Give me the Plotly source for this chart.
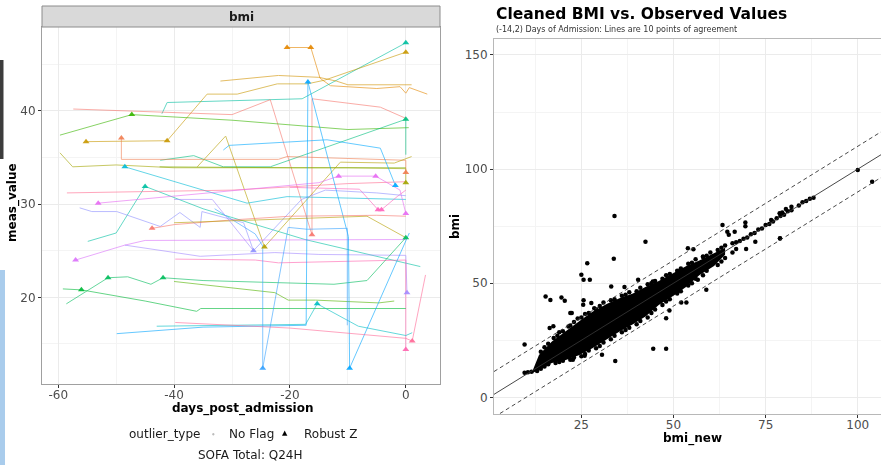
import plotly.graph_objects as go

# ---------------- LEFT PANEL DATA: (days_post_admission, meas_value, robust_z_flag) ----------------
pt01 = [(-20.5,46.8,1),(-16.4,46.8,1),(-14.8,43.5,0),(-13,42.7,0),(-5,42.4,0),(-1,42.6,0),(0,41.9,0),(0.6,42.5,0),(3.7,41.8,0)]
pt02 = [(-42.1,39.7,0),(-41.2,40.9,0),(-17.9,41.3,0),(0,47.3,1)]
pt03 = [(-55.2,36.7,1),(-41.2,36.8,1),(-34.3,41.8,0),(-29.1,41.8,0),(-22.2,42.9,0),(-17,42.9,0),(-14,43.3,0),(0,46.3,1)]
pt04 = [(-32,43.2,0),(-22,43.8,0),(-15,43.6,0),(-12,43.2,0),(-10,42.8,0),(1,42.8,0)]
pt05 = [(-57.4,40.2,0),(-30,39.6,0),(-23.4,41.2,0),(-16.2,26.7,1),(-16.2,41.3,0),(-4.4,40.4,0),(0,39.2,0)]
pt06 = [(-59.7,37.4,0),(-47.3,39.6,1),(-30,39,0),(-17,38.3,0),(-10,38,0),(0.5,38.2,0)]
pt07 = [(-42.4,34.7,0),(-36.6,35.2,0),(-31.5,34.0,0),(-23.4,34.0,0),(0,39.1,1),(0,35.3,0)]
pt08 = [(-49.1,37.1,1),(-49.1,34.8,0),(-22,34.8,0),(-20.5,35.1,0),(0,34.7,0),(0,33.4,1)]
pt09 = [(-59.7,35.5,0),(-57.5,34,0),(-50,34.2,0),(-40,33.9,0),(-10,33.9,0),(0,33.8,0),(0,32.3,1)]
pt10 = [(-42.5,34.0,0),(-20,33.9,0),(0,33.9,0)]
pt11 = [(-36,34,0),(-31.1,37.3,0),(-24.4,25.4,1),(-17,30.5,0),(-11.3,34.5,0),(-2,34.4,0),(1,35.1,0)]
pt12 = [(-31.5,35.8,0),(-30.5,36.3,0),(-13.6,36.9,0),(-4.4,36,0),(-1.8,32.0,1)]
pt13 = [(-48.5,34,1),(-27.4,30.1,0),(-20.5,30.8,0),(0,30.5,0)]
pt14 = [(-54.9,26,0),(-50,26.9,0),(-45,31.9,1),(-35,29.5,0),(-17.4,26.2,0),(2.5,23.3,0)]
pt15 = [(-58.5,31.2,0),(-30,31.5,0),(-10,32.2,0),(0,32.4,0)]
pt16 = [(-53.1,30.1,1),(-30,31.4,0),(-15,32.3,0),(-11.6,33,1),(-5.2,33,1),(-1,31.5,0),(0,29.0,1)]
pt17 = [(-20,31.8,0),(-8,31.6,0),(-4.8,29.4,1),(-4.2,29.4,1),(-1.5,30.8,0),(0,31.5,0)]
pt18 = [(-56.3,29.6,0),(-54.2,29.2,0),(-49.9,29.2,0),(-42.4,27.6,0),(-39,29.1,0),(-35.5,27.5,0),(-35.2,29.2,0),(-28,28,0),(-26.3,25.0,1),(-18,30.5,0),(-13.9,31.5,0),(-5,31.2,0),(0,30.9,0)]
pt19 = [(-57,24,1),(-48.5,25.6,0),(-45,26.1,0),(-20,26.2,0),(0,26.2,0)]
pt20 = [(-48.5,25.6,0),(-39.8,24.8,0),(-35.5,24.4,0),(-22.6,24.8,0),(-15,24.6,0),(0,24.5,0),(0.2,20.5,1)]
pt21 = [(-39.8,24.1,0),(-26,24.0,0),(-22,23.7,0),(-2,23.9,0),(0,24.0,0),(0,14.4,1)]
pt22 = [(-58.6,19.3,0),(-51.4,22.1,1),(-48,22.2,0),(-44,21.4,0),(-41.9,22.1,1),(-35,21.8,0),(-12.4,21.4,0),(-6.7,21.8,0),(0,26.4,1)]
pt23 = [(-59.2,20.9,0),(-56,20.8,1),(-45,19.6,0),(-36.1,18.5,0),(-35.4,18.8,0),(-20,18.8,0),(0,18.8,0)]
pt24 = [(-40,21.7,0),(-22.6,20.5,0),(-20.3,19.7,0),(-15.6,19.7,0),(-4.7,19.4,0),(-2,19.6,0)]
pt25 = [(-43,16.9,0),(-17.3,17.1,0),(-15.3,19.3,1),(-8.2,16.9,0),(0,15.9,0),(1.1,16.2,0)]
pt26 = [(-49.9,16.1,0),(-35,16.8,0),(-17.2,17.0,0),(-16.9,43.1,1),(-9.9,26.5,0),(-9.7,12.4,1),(0.6,26.9,0)]
pt27 = [(-33,29.5,0),(-26,26.8,0),(-24.7,25.5,0),(-24.7,12.4,1),(-20.3,27.5,0),(-17,27.3,0),(-10.1,27.4,0),(-10.1,17,0)]
pt28 = [(-39.8,17.3,0),(-20,16.7,0),(0,15.6,0),(1.1,15.3,1),(3.4,22.4,0)]
pt29 = [(-43.8,27.4,1),(-40,27.8,0),(-30,28.3,0),(-20,28.7,0),(-5,28.8,0),(0,28.7,0)]
pt30 = [(-40,28.0,0),(-17.3,28.5,0),(-6.7,28.7,0),(0,26.4,0)]
pt31 = [(-40,30.5,0),(-33.4,30.5,0),(-26.3,25.0,0)]

patients = [pt01, pt02, pt03, pt04, pt05, pt06, pt07, pt08, pt09, pt10, pt11, pt12, pt13, pt14, pt15,
            pt16, pt17, pt18, pt19, pt20, pt21, pt22, pt23, pt24, pt25, pt26, pt27, pt28, pt29, pt30, pt31]
patient_colors = ["#E58700", "#00BFA0", "#C99800", "#D39200", "#F8766D", "#39B600", "#00BF7D", "#F17D50",
                  "#A3A500", "#7CAE00", "#B79F00", "#00A9FF", "#00BCD8", "#00C1A3", "#FF6C91", "#E76BF3",
                  "#FF62BC", "#8F91FF", "#DB72FB", "#A58AFF", "#FF64B0", "#00BD5C", "#00BA38", "#53B400",
                  "#00BFC4", "#00A5FF", "#35A2FF", "#FF6A98", "#F8766D", "#B79F00", "#A58AFF"]

left_xticks = [-60, -40, -20, 0]
left_xticklabels = ["-60", "-40", "-20", "0"]
left_yticks = [20, 30, 40]

# ---------------- RIGHT PANEL DATA: (bmi_new, bmi) ----------------
core_hull_bmi_new = [11.5, 13.5, 17, 21, 24.5, 28, 32, 35.5, 39, 42.5, 46, 50, 53.5, 57, 61, 64,
                     64, 61, 57, 53.5, 50, 46, 42.5, 39, 35.5, 32, 28, 24.5, 21, 17, 13.5]
core_hull_bmi = [10.5, 18.5, 24.5, 29.5, 33.5, 37.5, 41, 43.5, 45.5, 48.5, 51, 54.5, 57.5, 60, 63, 65.5,
                 62.5, 57.5, 53.5, 48.5, 44.5, 40.5, 35.5, 32, 29, 25.5, 21.5, 18.5, 16.5, 15, 12]

edge_upper = [(14,20),(15,22),(16,23.5),(17.5,26),(18.5,27),(19,28.5),(20,29),(21.5,31),(22,31.5),(23,33),
              (24,34.5),(25,35),(26,36.5),(27,37),(28.5,39),(29,38.5),(30,40),(31,41.5),(33,42.5),(34,43),
              (36,44.5),(37,45),(38,46),(40,46.5),(41,48),(43,49.5),(44,50),(45,51),(47,52),(48,53.5),
              (49,54),(51,55.5),(52,56.5),(54,58.5),(55,59),(56,60.5),(58,61.5),(59,62),(60,63.5),(62,64.5),
              (63,65.5),(64,66.5),(66,67.5),(67,68)]
edge_lower = [(13,11.5),(14,12.5),(15,13.5),(16,14.5),(18,15),(19,15.5),(20,16),(22,16.5),(23,17.5),(25,18),
              (26,19),(27,20.5),(29,21.5),(30,22.5),(31,24),(33,25.5),(34,27),(36,28.5),(37,29.5),(38,30.5),
              (40,32),(41,33.5),(43,35),(44,37),(45,38.5),(47,40.5),(48,42),(49,43),(51,45.5),(52,46.5),
              (54,49),(55,50),(56,52),(58,53.5),(59,55.5),(62,58),(63,59.5),(64,61),(66,63.5),(67,65)]
tail_points = [(68,68.5),(69,69.5),(70,70),(71,71.5),(72,72),(73,73.5),(74,74),(75,75.5),(76,76),(77,77),
               (78,78.5),(79,79.5),(80,80),(81,81.5),(82,82),(84,84),(85,85.5),(86,86),(87,87),(88,87.5),(100,99.6)]
outlier_points = [(34.0,79.5),(103.9,94.5),(78.8,80.7),(79.5,81),(80.5,82.5),(82,83.5),(63.3,75.5),(69.5,76.6),
                  (69.5,75),(64.6,72.6),(66.6,72.5),(65,71.2),(78.9,69.6),(76.5,77.7),(42.4,68.2),(26.6,58.8),
                  (33.8,60.7),(25,53.7),(25.6,51.5),(27.3,51.5),(15.3,44.2),(16.6,42.7),(19.6,43.7),(20.5,42.3),
                  (9.6,23.1),(33.1,48.6),(36.7,48.3),(40.4,51.5),(53.9,65.3),(55.4,64.9),(58,61.7),(44.5,21.3),
                  (48,21.3),(34.2,15.9),(22,36.9),(22.4,36.9),(25.5,40.6),(25.6,42.5),(16.4,30.4),(17.4,31.1),
                  (48,34.7),(48.9,38),(52.1,41.6),(53.5,41.6),(58.9,47.1),(56.6,51.5),(69.7,65),(72.2,68.2),
                  (78.9,69.7),(26.8,24.5),(30.6,18.7),(25.9,18.2),(22.7,16.5),(9.6,10.8),(10.5,11),(11.5,11.2),
                  (27.7,41.3),(44.4,50.8)]
agreement_offsets = [-10, 0, 10]
agreement_dash = ["dash", "solid", "dash"]

right_xticks = [25, 50, 75, 100]
right_yticks = [0, 50, 100, 150]

# ---------------- FIGURE ----------------
W, H = 881, 465
def px(x): return x / W
def py(y): return 1 - y / H

FONT = "DejaVu Sans"
fig = go.Figure()

for pts, col in zip(patients, patient_colors):
    xs = [p[0] for p in pts]
    ys = [p[1] for p in pts]
    fig.add_trace(go.Scatter(x=xs, y=ys, mode="lines", line=dict(color=col, width=1), opacity=0.6,
                             xaxis="x", yaxis="y", showlegend=False, hoverinfo="skip"))
for pts, col in zip(patients, patient_colors):
    fx = [p[0] for p in pts if p[2] == 1]
    fy = [p[1] for p in pts if p[2] == 1]
    if fx:
        fig.add_trace(go.Scatter(x=fx, y=fy, mode="markers", opacity=0.9,
                                 marker=dict(symbol="triangle-up", size=6, color=col),
                                 xaxis="x", yaxis="y", showlegend=False, hoverinfo="skip"))

# right panel
fig.add_trace(go.Scatter(x=core_hull_bmi_new, y=core_hull_bmi, mode="lines", fill="toself",
                         fillcolor="black", line=dict(width=0, color="black"),
                         xaxis="x2", yaxis="y2", showlegend=False, hoverinfo="skip"))
all_pts = edge_upper + edge_lower + tail_points + outlier_points
fig.add_trace(go.Scatter(x=[p[0] for p in all_pts], y=[p[1] for p in all_pts], mode="markers",
                         marker=dict(size=4.5, color="black"),
                         xaxis="x2", yaxis="y2", showlegend=False, hoverinfo="skip"))

RX = [1.3, 106.3]
RY = [-7.3, 157]
for off, dsh in zip(agreement_offsets, agreement_dash):
    fig.add_trace(go.Scatter(x=RX, y=[RX[0] + off, RX[1] + off], mode="lines",
                             line=dict(color="#333333", width=0.9, dash=dsh if dsh == "solid" else "4px,3px"),
                             xaxis="x2", yaxis="y2", showlegend=False, hoverinfo="skip"))

tickfont = dict(family=FONT, size=12, color="#4D4D4D")
grid_major = "#EBEBEB"
grid_minor = "#F4F4F4"

fig.update_layout(
    width=W, height=H, margin=dict(l=0, r=0, t=0, b=0, pad=0),
    paper_bgcolor="white", plot_bgcolor="white", showlegend=False,
    font=dict(family=FONT),
    xaxis=dict(domain=[px(42), px(440)], range=[-62.8, 5.9], tickvals=left_xticks, ticktext=left_xticklabels,
               showgrid=True, gridcolor=grid_major, gridwidth=1,
               minor=dict(tickvals=[-50, -30, -10], showgrid=True, gridcolor=grid_minor, gridwidth=0.6, ticklen=0),
               ticks="outside", ticklen=3, tickcolor="#333333", tickfont=tickfont, ticklabelstandoff=-3,
               showline=True, linecolor="#A0A0A0", linewidth=1, mirror=True, zeroline=False, anchor="y"),
    yaxis=dict(domain=[py(384), py(27)], range=[10.7, 49.0], tickvals=left_yticks,
               showgrid=True, gridcolor=grid_major, gridwidth=1,
               minor=dict(tickvals=[15, 25, 35, 45], showgrid=True, gridcolor=grid_minor, gridwidth=0.6, ticklen=0),
               ticks="outside", ticklen=3, tickcolor="#333333", tickfont=tickfont,
               showline=True, linecolor="#A0A0A0", linewidth=1, mirror=True, zeroline=False, anchor="x"),
    xaxis2=dict(domain=[px(494), 1.0], range=RX, tickvals=right_xticks,
                showgrid=True, gridcolor=grid_major, gridwidth=1,
                minor=dict(tickvals=[12.5, 37.5, 62.5, 87.5], showgrid=True, gridcolor=grid_minor, gridwidth=0.6, ticklen=0),
                ticks="outside", ticklen=3, tickcolor="#333333", tickfont=tickfont, ticklabelstandoff=-3,
                showline=True, linecolor="#B8B8B8", linewidth=1, mirror=True, zeroline=False, anchor="y2"),
    yaxis2=dict(domain=[py(414), py(39)], range=RY, tickvals=right_yticks,
                showgrid=True, gridcolor=grid_major, gridwidth=1,
                minor=dict(tickvals=[25, 75, 125], showgrid=True, gridcolor=grid_minor, gridwidth=0.6, ticklen=0),
                ticks="outside", ticklen=3, tickcolor="#333333", tickfont=tickfont,
                showline=True, linecolor="#B8B8B8", linewidth=1, mirror=True, zeroline=False, anchor="x2"),
)

shapes = [
    dict(type="rect", xref="paper", yref="paper", x0=px(42), x1=px(440), y0=py(27), y1=py(6),
         fillcolor="#D9D9D9", line=dict(color="#8C8C8C", width=1), layer="above"),
    dict(type="rect", xref="paper", yref="paper", x0=0, x1=px(3.5), y0=py(159), y1=py(60),
         fillcolor="#3C3C3C", line=dict(width=0)),
    dict(type="rect", xref="paper", yref="paper", x0=0, x1=px(5), y0=0, y1=py(270),
         fillcolor="#A9CCEC", line=dict(width=0)),
]
fig.update_layout(shapes=shapes)

ann = []
def A(text, x, y, size=12, bold=False, color="#1A1A1A", xanchor="center", angle=0):
    t = f"<b>{text}</b>" if bold else text
    ann.append(dict(text=t, x=x, y=y, xref="paper", yref="paper", showarrow=False, xanchor=xanchor,
                    yanchor="middle", textangle=angle, font=dict(family=FONT, size=size, color=color)))

A("bmi", px(241), py(16.5), size=12, bold=True)
A("days_post_admission", px(243), py(408), size=12, bold=True, color="#000000")
A("meas_value", px(13), py(203), size=12, bold=True, color="#000000", angle=-90)
A("outlier_type", px(127), py(434), size=12, xanchor="left")
A("●", px(213), py(434), size=3, color="#BBBBBB")
A("No Flag", px(227), py(434), size=12, xanchor="left")
A("▲", px(285), py(433), size=7, color="#000000")
A("Robust Z", px(302), py(434), size=12, xanchor="left")
A("SOFA Total: Q24H", px(250), py(455), size=12)
A("Cleaned BMI vs. Observed Values", px(494), py(14), size=15.5, bold=True, color="#000000", xanchor="left")
A("(-14,2) Days of Admission: Lines are 10 points of agreement", px(494), py(29.5), size=8, color="#333333", xanchor="left")
A("bmi", px(455), py(226), size=12, bold=True, color="#000000", angle=-90)
A("bmi_new", px(692), py(438), size=12, bold=True, color="#000000")
fig.update_layout(annotations=ann)

fig.write_html("out.html")
